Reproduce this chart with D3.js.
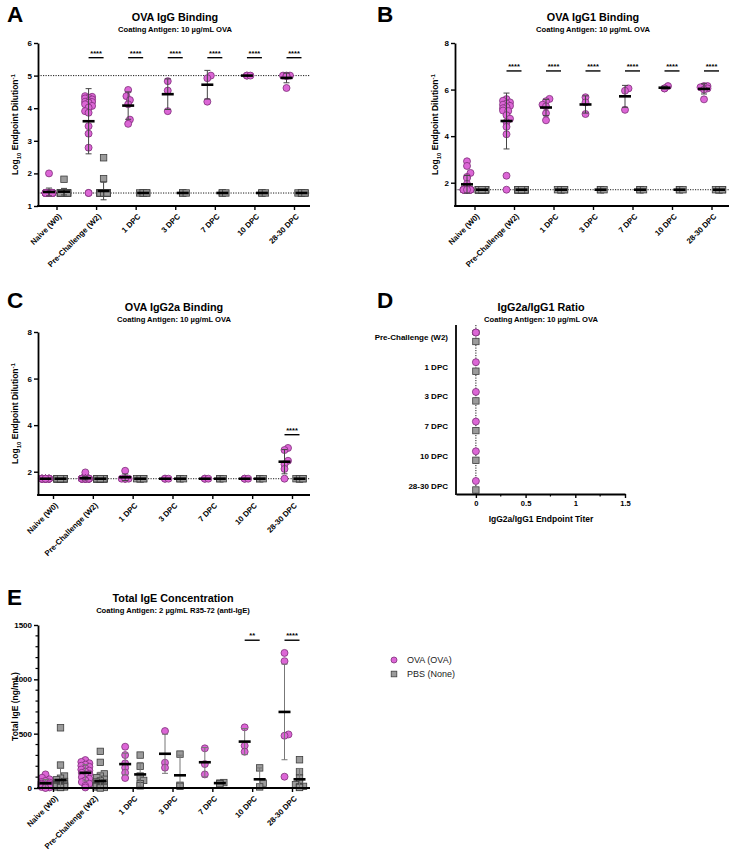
<!DOCTYPE html>
<html><head><meta charset="utf-8">
<script src="https://cdn.jsdelivr.net/npm/d3@7"></script>
<style>body{margin:0;background:#fff}svg{display:block}</style>
</head><body><svg id="c" width="730" height="855"></svg>
<script>
const FONT = "'Liberation Sans', Arial, Helvetica, sans-serif";
const categories = ["Naive (W0)","Pre-Challenge (W2)","1 DPC","3 DPC","7 DPC","10 DPC","28-30 DPC"];
const ratioCategories = ["Pre-Challenge (W2)","1 DPC","3 DPC","7 DPC","10 DPC","28-30 DPC"];
const groups = ["OVA (OVA)","PBS (None)"];

// ---- Panel A: OVA IgG (log10 endpoint dilution^-1)
const iggOva = [
  [2.0,1.4,1.4,1.4,1.4,1.4,1.4,1.4,1.4,1.4,1.4,1.4,1.4,1.4,1.4,1.4,1.4,1.4,1.4,1.4],
  [4.37,4.35,4.32,4.3,4.27,4.22,4.2,4.19,4.17,4.12,4.07,4.02,3.91,3.86,3.45,3.22,2.79,1.4,1.4],
  [4.56,4.37,4.25,4.12,3.65,3.52],
  [4.83,4.54,3.91],
  [5.0,4.92,4.2],
  [5.0,5.0,5.0],
  [5.0,5.0,5.0,4.98,4.62]
];
const iggPbs = [
  [1.82,1.4,1.4,1.4,1.4,1.4,1.4,1.4,1.4,1.4,1.4,1.4,1.4,1.4,1.4,1.4,1.4,1.4,1.4,1.4],
  [2.48,1.84,1.4,1.4,1.4,1.4,1.4,1.4,1.4,1.4,1.4,1.4,1.4,1.4,1.4,1.4,1.4,1.4,1.4,1.4],
  [1.4,1.4,1.4,1.4,1.4,1.4],
  [1.4,1.4,1.4],
  [1.4,1.4,1.4],
  [1.4,1.4,1.4],
  [1.4,1.4,1.4,1.4,1.4,1.4]
];
const iggOvaMean = [1.43,3.6,4.08,4.43,4.72,5.0,4.93];
const iggOvaSd   = [0.12,1.0,0.42,0.47,0.44,0,0.15];
const iggPbsMean = [1.44,1.46,1.4,1.4,1.4,1.4,1.4];
const iggPbsSd   = [0.1,0.27,0,0,0,0,0];
const iggSig = ["","****","****","****","****","****","****"];
const iggTicks = [1,2,3,4,5,6];

// ---- Panel B: OVA IgG1
const igg1Ova = [
  [2.92,2.72,2.42,2.25,2.2,1.95,1.7,1.7,1.7,1.7,1.7,1.7,1.7,1.7,1.7,1.7,1.7,1.7,1.7,1.7],
  [5.59,5.52,5.45,5.4,5.35,5.3,5.25,5.2,5.1,5.08,4.9,4.75,4.6,4.4,4.08,2.3,1.7],
  [5.6,5.5,5.35,5.28,4.98,4.68],
  [5.67,5.45,4.95],
  [6.05,5.95,5.13],
  [6.15,6.05,6.05],
  [6.15,6.15,6.1,6.05,6.0,5.58]
];
const igg1Pbs = [
  [1.7,1.7,1.7,1.7,1.7,1.7,1.7,1.7,1.7,1.7,1.7,1.7,1.7,1.7,1.7,1.7,1.7,1.7,1.7,1.7],
  [1.7,1.7,1.7,1.7,1.7,1.7,1.7,1.7,1.7,1.7,1.7,1.7,1.7,1.7,1.7,1.7,1.7,1.7,1.7,1.7],
  [1.7,1.7,1.7,1.7,1.7,1.7],
  [1.7,1.7,1.7],
  [1.7,1.7,1.7],
  [1.7,1.7,1.7],
  [1.7,1.7,1.7,1.7,1.7,1.7]
];
const igg1OvaMean = [1.93,4.65,5.23,5.36,5.71,6.08,6.03];
const igg1OvaSd   = [0.38,1.2,0.35,0.37,0.47,0.06,0.22];
const igg1PbsMean = [1.7,1.7,1.7,1.7,1.7,1.7,1.7];
const igg1PbsSd   = [0,0,0,0,0,0,0];
const igg1Sig = ["","****","****","****","****","****","****"];
const subTicks = [2,4,6,8];

// ---- Panel C: OVA IgG2a
const igg2aOva = [
  [1.7,1.7,1.7,1.7,1.7,1.7,1.7,1.7,1.7,1.7,1.7,1.7,1.7,1.7,1.7,1.7,1.7,1.7,1.7,1.7],
  [1.97,1.7,1.7,1.7,1.7,1.7,1.7,1.7,1.7,1.7,1.7,1.7,1.7,1.7,1.7,1.7,1.7,1.7,1.7],
  [2.04,1.7,1.7,1.7,1.7,1.7],
  [1.7,1.7,1.7],
  [1.7,1.7,1.7],
  [1.7,1.7,1.7],
  [3.02,2.93,2.47,2.32,2.12,1.7]
];
const igg2aPbs = [
  [1.7,1.7,1.7,1.7,1.7,1.7,1.7,1.7,1.7,1.7,1.7,1.7,1.7,1.7,1.7,1.7,1.7,1.7,1.7,1.7],
  [1.7,1.7,1.7,1.7,1.7,1.7,1.7,1.7,1.7,1.7,1.7,1.7,1.7,1.7,1.7,1.7,1.7,1.7,1.7,1.7],
  [1.7,1.7,1.7,1.7,1.7,1.7],
  [1.7,1.7,1.7],
  [1.7,1.7,1.7],
  [1.7,1.7,1.7],
  [1.7,1.7,1.7,1.7,1.7,1.7]
];
const igg2aOvaMean = [1.7,1.72,1.76,1.7,1.7,1.7,2.43];
const igg2aOvaSd   = [0,0.07,0.14,0,0,0,0.52];
const igg2aPbsMean = [1.7,1.7,1.7,1.7,1.7,1.7,1.7];
const igg2aPbsSd   = [0,0,0,0,0,0,0];
const igg2aSig = ["","","","","","","****"];

// ---- Panel D: IgG2a/IgG1 ratio
const ratioOvaMean = [0,0,0,0,0,0];
const ratioOvaSd   = [0.03,0,0,0,0,0];
const ratioPbsMean = [0,0,0,0,0,0];
const ratioTicks = [0,0.5,1,1.5];
const ratioMinorTicks = [0.25,0.75,1.25];

// ---- Panel E: Total IgE (ng/mL)
const igeOva = [
  [125,95,80,65,55,50,45,40,35,30,30,25,20,20,15,10,10,5,5,0],
  [257,240,228,215,205,195,180,170,160,150,140,130,115,100,85,70,55,40,20,5],
  [380,303,227,187,140,92],
  [524,233,187],
  [365,220,125],
  [558,389,334],
  [1243,1167,493,481,104]
];
const igePbs = [
  [554,211,110,90,75,60,50,45,40,35,30,25,20,20,15,15,10,10,5,5],
  [337,236,130,110,95,80,65,55,45,40,35,30,25,20,15,10,10,5,5,0],
  [303,200,110,70,40,20],
  [312,25,15],
  [50,45,40],
  [185,45,10],
  [260,150,90,50,30,15,10,5]
];
const igeOvaMean = [43,140,220,315,237,427,700];
const igeOvaSd   = [35,75,100,180,135,120,440];
const igePbsMean = [73,64,125,117,45,80,80];
const igePbsSd   = [110,80,110,185,8,105,100];
const igeSig = ["","","","","","**","****"];
const igeTicks = [0,500,1000,1500];
const igeMinorTicks = [100,200,300,400,600,700,800,900,1100,1200,1300,1400];

// ---- styling
const PINK = "#dc66d6", PINK_STROKE = "#7d2f78";
const GREY = "#9b9b9b", GREY_STROKE = "#3d3d3d";

const svg = d3.select("#c").style("font-family", FONT);

function styleAxis(sel, fs) {
  sel.attr("font-family", FONT);
  sel.select(".domain").attr("stroke", "#000").attr("stroke-width", 1.8);
  sel.selectAll(".tick line").attr("stroke", "#000").attr("stroke-width", 1.4);
  sel.selectAll(".tick text").attr("font-size", fs).attr("font-weight", "bold").attr("fill", "#000");
}

function swarm(ys, r, maxOff) {
  const idx = ys.map((v, i) => i).sort((a, b) => ys[b] - ys[a]);
  const placed = [], off = new Array(ys.length).fill(0);
  const step = r * 0.5, minD = 2 * r * 0.62;
  idx.forEach((i, k) => {
    const yy = ys[i];
    let best = null;
    for (let s = 0; s <= Math.ceil(maxOff / step) && best === null; s++) {
      const cands = s === 0 ? [0] : [s * step, -s * step];
      for (const dx of cands) {
        if (Math.abs(dx) > maxOff + 0.01) continue;
        if (placed.every(p => (p.dx - dx) ** 2 + (p.y - yy) ** 2 >= minD * minD)) { best = dx; break; }
      }
    }
    if (best === null) { const o = [-maxOff, 0, maxOff]; best = o[k % 3]; }
    placed.push({dx: best, y: yy}); off[i] = best;
  });
  return off;
}

function drawMarker(g, shape, cx, cy, r) {
  if (shape === "circle") {
    g.append("circle").attr("cx", cx).attr("cy", cy).attr("r", r)
      .attr("fill", PINK).attr("stroke", PINK_STROKE).attr("stroke-width", 0.8);
  } else {
    g.append("rect").attr("x", cx - r).attr("y", cy - r).attr("width", 2 * r).attr("height", 2 * r)
      .attr("fill", GREY).attr("stroke", GREY_STROKE).attr("stroke-width", 0.8);
  }
}

function yLabel(g, x, y, parts) {
  const t = g.append("text").attr("transform", `translate(${x},${y}) rotate(-90)`)
    .attr("text-anchor", "middle").attr("font-size", 8.5).attr("font-weight", "bold").attr("font-family", FONT);
  parts.forEach(p => {
    const ts = t.append("tspan").text(p.t);
    if (p.fs) ts.attr("font-size", p.fs);
    if (p.dy) ts.attr("dy", p.dy);
  });
}
const logLabel = [
  {t: "Log"}, {t: "10", fs: 6, dy: 2.5}, {t: " Endpoint Dilution", dy: -2.5}, {t: "-1", fs: 6, dy: -3.5}
];

function titles(g, cx, y1, t1, t2, letter, lx, ly) {
  g.append("text").attr("x", cx).attr("y", y1).attr("text-anchor", "middle")
    .attr("font-size", 10.8).attr("font-weight", "bold").text(t1);
  g.append("text").attr("x", cx).attr("y", y1 + 10.5).attr("text-anchor", "middle")
    .attr("font-size", 7.6).attr("font-weight", "bold").text(t2);
  g.append("text").attr("x", lx).attr("y", ly).attr("font-size", 22.5).attr("font-weight", "bold").text(letter);
}

function drawVPanel(o) {
  const g = svg.append("g").attr("font-family", FONT);
  const x = d3.scalePoint().domain(categories).range(o.xRange);
  const y = d3.scaleLinear().domain(o.yDomain).range(o.yRange);
  const y0 = o.yRange[0], yTop = o.yRange[1];
  const off = 7.5, r = o.r || 3.5;

  (o.refs || []).forEach(v => {
    g.append("line").attr("x1", o.axisX).attr("x2", o.xEnd).attr("y1", y(v)).attr("y2", y(v))
      .attr("stroke", "#000").attr("stroke-width", 0.9).attr("stroke-dasharray", "1.2,1.3");
  });

  const sets = [
    {data: o.ova, mean: o.ovaMean, sd: o.ovaSd, dx: -off, shape: "circle"},
    {data: o.pbs, mean: o.pbsMean, sd: o.pbsSd, dx: off, shape: "square"}
  ];
  sets.forEach(s => {
    categories.forEach((c, i) => {
      const ys = s.data[i].map(v => y(v));
      const offs = swarm(ys, r, o.maxOff || 3.5);
      ys.forEach((yy, j) => drawMarker(g, s.shape, x(c) + s.dx + offs[j], yy, s.shape === "circle" ? r : r * 0.92));
    });
  });
  sets.forEach(s => {
    categories.forEach((c, i) => {
      const cx = x(c) + s.dx, m = s.mean[i], sd = s.sd[i];
      if (sd > 0) {
        const hi = y(m + sd), lo = Math.min(y0, y(m - sd));
        g.append("line").attr("x1", cx).attr("x2", cx).attr("y1", hi).attr("y2", lo)
          .attr("stroke", o.errColor || "#444").attr("stroke-width", 1);
        g.append("line").attr("x1", cx - 3).attr("x2", cx + 3).attr("y1", hi).attr("y2", hi)
          .attr("stroke", o.errColor || "#444").attr("stroke-width", 1);
        if (y(m - sd) < y0) g.append("line").attr("x1", cx - 3).attr("x2", cx + 3).attr("y1", lo).attr("y2", lo)
          .attr("stroke", o.errColor || "#444").attr("stroke-width", 1);
      }
      g.append("line").attr("x1", cx - 6).attr("x2", cx + 6).attr("y1", y(m)).attr("y2", y(m))
        .attr("stroke", "#000").attr("stroke-width", 2.6);
    });
  });

  o.sig.forEach((s, i) => {
    if (!s) return;
    const c = x(categories[i]), yy = y(o.sigValue);
    g.append("line").attr("x1", c - off).attr("x2", c + off).attr("y1", yy).attr("y2", yy)
      .attr("stroke", "#000").attr("stroke-width", 1.4);
    g.append("text").attr("x", c).attr("y", yy - 2).attr("text-anchor", "middle")
      .attr("font-size", 7.5).attr("font-weight", "bold").text(s);
  });

  const ya = g.append("g").attr("transform", `translate(${o.axisX},0)`)
    .call(d3.axisLeft(y).tickValues(o.yTicks).tickSize(4).tickPadding(2).tickSizeOuter(0).tickFormat(d3.format("d")));
  styleAxis(ya, 8);
  if (o.yMinor) {
    o.yMinor.forEach(v => g.append("line").attr("x1", o.axisX - 2.5).attr("x2", o.axisX)
      .attr("y1", y(v)).attr("y2", y(v)).attr("stroke", "#000").attr("stroke-width", 1.2));
  }
  const xa = g.append("g").attr("transform", `translate(0,${y0})`)
    .call(d3.axisBottom(x).tickSize(4).tickSizeOuter(0));
  styleAxis(xa, 7.8);
  xa.select(".domain").remove();
  xa.selectAll(".tick text").attr("x", 0).attr("y", 0).attr("dy", "0.35em")
    .attr("text-anchor", "end").attr("transform", "translate(3,9) rotate(-45)");
  g.append("line").attr("x1", o.axisX - 0.9).attr("x2", o.xEnd).attr("y1", y0).attr("y2", y0)
    .attr("stroke", "#000").attr("stroke-width", 1.8);

  titles(g, o.titleX, o.titleY, o.title, o.subtitle, o.letter, o.letterX, o.letterY);
  yLabel(g, o.labelX, (y0 + yTop) / 2, o.yLabel);
}

drawVPanel({
  ova: iggOva, pbs: iggPbs, ovaMean: iggOvaMean, ovaSd: iggOvaSd, pbsMean: iggPbsMean, pbsSd: iggPbsSd,
  sig: iggSig, sigValue: 5.55, refs: [5, 1.398],
  xRange: [56.5, 294], yDomain: [1, 6], yRange: [206, 43], yTicks: iggTicks,
  axisX: 38, xEnd: 310, title: "OVA IgG Binding", subtitle: "Coating Antigen: 10 µg/mL OVA",
  titleX: 175, titleY: 21, letter: "A", letterX: 7, letterY: 22, labelX: 18, yLabel: logLabel
});
drawVPanel({
  ova: igg1Ova, pbs: igg1Pbs, ovaMean: igg1OvaMean, ovaSd: igg1OvaSd, pbsMean: igg1PbsMean, pbsSd: igg1PbsSd,
  sig: igg1Sig, sigValue: 6.8, refs: [1.699],
  xRange: [474.5, 711.5], yDomain: [1, 8], yRange: [206, 43], yTicks: subTicks,
  axisX: 455, xEnd: 729, title: "OVA IgG1 Binding", subtitle: "Coating Antigen: 10 µg/mL OVA",
  titleX: 593, titleY: 21, letter: "B", letterX: 377, letterY: 22, labelX: 438, yLabel: logLabel
});
drawVPanel({
  ova: igg2aOva, pbs: igg2aPbs, ovaMean: igg2aOvaMean, ovaSd: igg2aOvaSd, pbsMean: igg2aPbsMean, pbsSd: igg2aPbsSd,
  sig: igg2aSig, sigValue: 3.59, refs: [1.699],
  xRange: [53, 292], yDomain: [1, 8], yRange: [495, 332], yTicks: subTicks,
  axisX: 38, xEnd: 310, title: "OVA IgG2a Binding", subtitle: "Coating Antigen: 10 µg/mL OVA",
  titleX: 174, titleY: 311, letter: "C", letterX: 7, letterY: 308, labelX: 18, yLabel: logLabel
});
drawVPanel({
  ova: igeOva, pbs: igePbs, ovaMean: igeOvaMean, ovaSd: igeOvaSd, pbsMean: igePbsMean, pbsSd: igePbsSd,
  sig: igeSig, sigValue: 1360, refs: [], errColor: "#777", maxOff: 4,
  xRange: [53, 292], yDomain: [0, 1500], yRange: [788, 625], yTicks: igeTicks, yMinor: igeMinorTicks,
  axisX: 38, xEnd: 310, title: "Total IgE Concentration", subtitle: "Coating Antigen: 2 µg/mL R35-72 (anti-IgE)",
  titleX: 173, titleY: 602, letter: "E", letterX: 7, letterY: 605, labelX: 18,
  yLabel: [{t: "Total IgE (ng/mL)"}]
});

// ---- Panel D
(function () {
  const g = svg.append("g").attr("font-family", FONT);
  const x = d3.scaleLinear().domain([-0.2, 1.5]).range([456, 625]);
  const y = d3.scalePoint().domain(ratioCategories).range([337, 485.5]);
  const top = 325, bottom = 494;
  g.append("line").attr("x1", x(0)).attr("x2", x(0)).attr("y1", top).attr("y2", bottom)
    .attr("stroke", "#000").attr("stroke-width", 0.9).attr("stroke-dasharray", "1.2,1.3");
  ratioCategories.forEach((c, i) => {
    const cy = y(c);
    drawMarker(g, "circle", x(ratioOvaMean[i]), cy - 4.5, 3.5);
    drawMarker(g, "square", x(ratioPbsMean[i]), cy + 4.5, 3.2);
    if (ratioOvaSd[i] > 0) {
      const a = x(ratioOvaMean[i] - ratioOvaSd[i]), b = x(ratioOvaMean[i] + ratioOvaSd[i]), yy = cy - 4.5;
      g.append("line").attr("x1", a).attr("x2", b).attr("y1", yy).attr("y2", yy).attr("stroke", "#444").attr("stroke-width", 1);
      [a, b].forEach(v => g.append("line").attr("x1", v).attr("x2", v).attr("y1", yy - 2.5).attr("y2", yy + 2.5)
        .attr("stroke", "#444").attr("stroke-width", 1));
      drawMarker(g, "circle", x(ratioOvaMean[i]), yy, 3.5);
    }
  });
  const ya = g.append("g").attr("transform", "translate(456,0)")
    .call(d3.axisLeft(y).tickSize(0).tickPadding(8));
  styleAxis(ya, 8);
  ya.select(".domain").remove();
  g.append("line").attr("x1", 456).attr("x2", 456).attr("y1", top).attr("y2", bottom + 0.9)
    .attr("stroke", "#000").attr("stroke-width", 1.8);
  const xa = g.append("g").attr("transform", `translate(0,${bottom})`)
    .call(d3.axisBottom(x).tickValues(ratioTicks).tickSize(4).tickSizeOuter(0).tickPadding(3).tickFormat(d => String(d)));
  styleAxis(xa, 7.6);
  ratioMinorTicks.forEach(v => g.append("line").attr("x1", x(v)).attr("x2", x(v)).attr("y1", bottom).attr("y2", bottom + 2.5)
    .attr("stroke", "#000").attr("stroke-width", 1.2));
  g.append("text").attr("x", 541).attr("y", 522).attr("text-anchor", "middle")
    .attr("font-size", 8.5).attr("font-weight", "bold").text("IgG2a/IgG1 Endpoint Titer");
  titles(g, 541, 311, "IgG2a/IgG1 Ratio", "Coating Antigen: 10 µg/mL OVA", "D", 377, 308);
})();

// ---- Legend
(function () {
  const g = svg.append("g").attr("font-family", FONT);
  groups.forEach((name, i) => {
    const yy = 660 + i * 14;
    drawMarker(g, i === 0 ? "circle" : "square", 394, yy, i === 0 ? 3 : 2.8);
    g.append("text").attr("x", 407).attr("y", yy + 3.2).attr("font-size", 9).attr("fill", "#222").text(name);
  });
})();
</script>
</body></html>
